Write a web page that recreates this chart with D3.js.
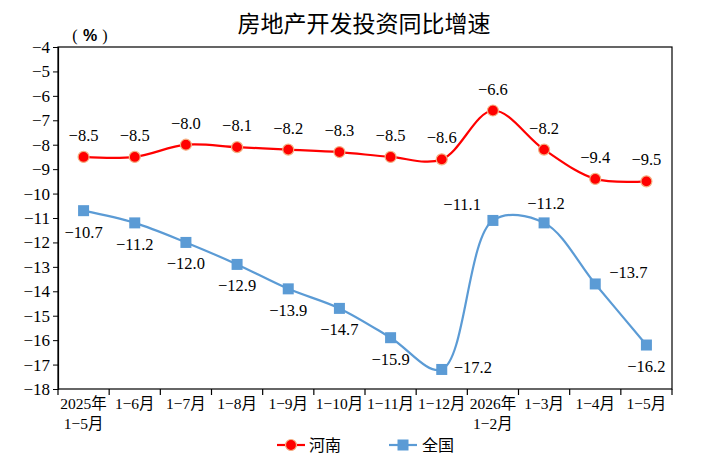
<!DOCTYPE html>
<html>
<head>
<meta charset="utf-8">
<script src="https://cdn.jsdelivr.net/npm/d3@7"></script>
<style>
  body { margin: 0; background: #fff; }
  text { font-family: "Liberation Serif", "Noto Sans CJK SC", serif; }
</style>
</head>
<body>
<div id="chart"></div>
<script>
// categories and series
const categories = [["2025年", "1−5月"], ["1−6月"], ["1−7月"], ["1−8月"], ["1−9月"], ["1−10月"],
  ["1−11月"], ["1−12月"], ["2026年", "1−2月"], ["1−3月"], ["1−4月"], ["1−5月"]];
const henan = [-8.5, -8.5, -8.0, -8.1, -8.2, -8.3, -8.5, -8.6, -6.6, -8.2, -9.4, -9.5];
const national = [-10.7, -11.2, -12.0, -12.9, -13.9, -14.7, -15.9, -17.2, -11.1, -11.2, -13.7, -16.2];
const yTicks = [-4, -5, -6, -7, -8, -9, -10, -11, -12, -13, -14, -15, -16, -17, -18];
// label placement for 全国
const nationalLabelPos = ["below", "below", "below", "below", "below", "below", "below",
  "right", "aboveLeft", "above", "rightUp", "below"];

const W = 704, H = 476;
const margin = {top: 47, right: 32, bottom: 87, left: 58};
const width = W - margin.left - margin.right,
    height = H - margin.top - margin.bottom;

const svg = d3.select("#chart").append("svg")
  .attr("width", W).attr("height", H);

const g = svg.append("g")
  .attr("transform", `translate(${margin.left},${margin.top})`);

const x = d3.scaleBand()
  .domain(d3.range(categories.length))
  .range([0, width]);

const y = d3.scaleLinear()
  .domain([-18, -4])
  .range([height, 0]);

const fmt = v => d3.format(".1f")(v).replace("-", "−");
const cx = i => x(i) + x.bandwidth() / 2;

// title
svg.append("text")
  .attr("x", 364).attr("y", 32)
  .attr("text-anchor", "middle")
  .style("font-family", "'Noto Sans CJK SC', serif")
  .style("font-size", "23px")
  .text("房地产开发投资同比增速");

// unit label
const unit = svg.append("g").style("font-size", "16px");
unit.append("text").attr("x", 75).attr("y", 41).attr("text-anchor", "middle").text("(");
unit.append("text").attr("x", 90).attr("y", 41).attr("text-anchor", "middle")
  .style("font-family", "'Liberation Sans', sans-serif")
  .attr("font-weight", "bold").text("%");
unit.append("text").attr("x", 105).attr("y", 41).attr("text-anchor", "middle").text(")");

// frame
g.append("rect")
  .attr("width", width).attr("height", height)
  .attr("fill", "none").attr("stroke", "#000").attr("stroke-width", 1.2);

// y axis
const yAxis = g.append("g")
  .call(d3.axisLeft(y).tickValues(yTicks).tickSize(5).tickFormat(d => String(d).replace("-", "−")));
yAxis.select(".domain").attr("stroke-width", 1.2);
yAxis.selectAll("text")
  .style("font-family", "'Liberation Serif', serif")
  .style("font-size", "17px")
  .attr("fill", "#000");

// x axis: ticks at band boundaries
const xa = g.append("g").attr("transform", `translate(0,${height})`);
xa.selectAll("line")
  .data(d3.range(categories.length + 1))
  .join("line")
  .attr("x1", i => i < categories.length ? x(i) : width)
  .attr("x2", i => i < categories.length ? x(i) : width)
  .attr("y1", 0).attr("y2", 6)
  .attr("stroke", "#000").attr("stroke-width", 1.2);

xa.selectAll("text.cat")
  .data(categories)
  .join("text")
  .attr("class", "cat")
  .attr("text-anchor", "middle")
  .style("font-size", "15.5px")
  .each(function(d, i) {
    d3.select(this).selectAll("tspan")
      .data(d)
      .join("tspan")
      .attr("x", cx(i))
      .attr("y", (t, j) => 20 + j * 20)
      .text(t => t);
  });

const line = d3.line()
  .x((d, i) => cx(i))
  .y(d => y(d))
  .curve(d3.curveCatmullRom.alpha(0.5));

// 全国
g.append("path")
  .datum(national)
  .attr("fill", "none")
  .attr("stroke", "#5B9BD5")
  .attr("stroke-width", 2.2)
  .attr("d", line);

g.selectAll("rect.nat")
  .data(national)
  .join("rect")
  .attr("class", "nat")
  .attr("x", (d, i) => cx(i) - 5.5)
  .attr("y", d => y(d) - 5.5)
  .attr("width", 11).attr("height", 11)
  .attr("fill", "#5B9BD5");

const posOf = {
  below: [0, 27, "middle"],
  above: [2, -14, "middle"],
  right: [12, 4, "start"],
  rightUp: [14, -6, "start"],
  aboveLeft: [-12, -10, "end"]
};

g.selectAll("text.natl")
  .data(national)
  .join("text")
  .attr("class", "natl")
  .attr("x", (d, i) => cx(i) + posOf[nationalLabelPos[i]][0])
  .attr("y", (d, i) => y(d) + posOf[nationalLabelPos[i]][1])
  .attr("text-anchor", (d, i) => posOf[nationalLabelPos[i]][2])
  .style("font-size", "16.5px")
  .text(fmt);

// 河南
g.append("path")
  .datum(henan)
  .attr("fill", "none")
  .attr("stroke", "#FF0000")
  .attr("stroke-width", 2.2)
  .attr("d", line);

g.selectAll("circle.hn")
  .data(henan)
  .join("circle")
  .attr("class", "hn")
  .attr("cx", (d, i) => cx(i))
  .attr("cy", d => y(d))
  .attr("r", 5.5)
  .attr("fill", "#FF0000")
  .attr("stroke", "#F4B183")
  .attr("stroke-width", 1.2);

g.selectAll("text.hnl")
  .data(henan)
  .join("text")
  .attr("class", "hnl")
  .attr("x", (d, i) => cx(i))
  .attr("y", d => y(d) - 16)
  .attr("text-anchor", "middle")
  .style("font-size", "16.5px")
  .text(fmt);

// legend
const legend = svg.append("g").attr("transform", "translate(0,445)");
legend.append("line").attr("x1", 277).attr("x2", 305)
  .attr("stroke", "#FF0000").attr("stroke-width", 2.2);
legend.append("circle").attr("cx", 291).attr("r", 5.5)
  .attr("fill", "#FF0000").attr("stroke", "#F4B183").attr("stroke-width", 1.2);
legend.append("text").attr("x", 309).attr("y", 6)
  .style("font-family", "'Noto Sans CJK SC', serif")
  .style("font-size", "16px").text("河南");

legend.append("line").attr("x1", 389).attr("x2", 417)
  .attr("stroke", "#5B9BD5").attr("stroke-width", 2.2);
legend.append("rect").attr("x", 397.5).attr("y", -5.5)
  .attr("width", 11).attr("height", 11).attr("fill", "#5B9BD5");
legend.append("text").attr("x", 422).attr("y", 6)
  .style("font-family", "'Noto Sans CJK SC', serif")
  .style("font-size", "16px").text("全国");
</script>
</body>
</html>
